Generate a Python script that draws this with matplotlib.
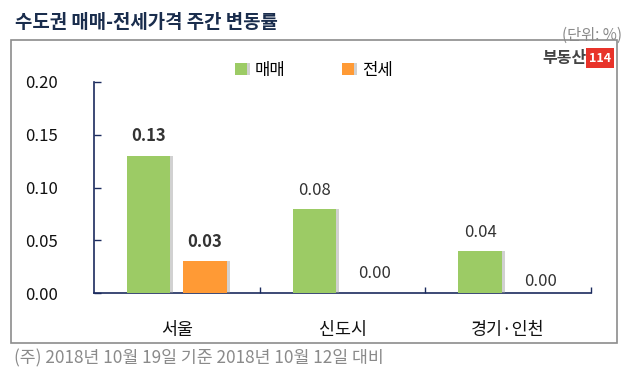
# 수도권 매매-전세가격 주간 변동률

import numpy as np
import matplotlib.pyplot as plt
from matplotlib.patches import Rectangle
import matplotlib.patheffects as pe

plt.rcParams['font.family'] = ['Noto Sans CJK KR', 'DejaVu Sans']

regions = ['서울', '신도시', '경기·인천']
sale = [0.13, 0.08, 0.04]      # 매매
jeonse = [0.03, 0.00, 0.00]    # 전세
yticks = [0.00, 0.05, 0.10, 0.15, 0.20]

green = '#9ccb65'
orange = '#ff9a35'
navy = '#1b2b5e'
txt = '#333333'

fig = plt.figure(figsize=(6.31, 3.83), dpi=100)
ax = fig.add_axes([94/631, 1-293/383, 497/631, 211/383])

x = np.arange(len(regions))
w = 0.26
off = 0.17
shadow = [pe.SimplePatchShadow(offset=(2.2, 0), shadow_rgbFace='#999999', alpha=0.45), pe.Normal()]
b1 = ax.bar(x - off, sale, w, color=green, label='매매', path_effects=shadow, zorder=3)
b2 = ax.bar(x + off, jeonse, w, color=orange, label='전세', path_effects=shadow, zorder=3)

# value labels (서울 in bold)
lift1 = [14, 13, 13.5]
lift2 = [14, 14, 8.5]
for i in range(len(regions)):
    fw = 'bold' if i == 0 else 'normal'
    ax.annotate(f'{sale[i]:.2f}', (x[i] - off, sale[i]), xytext=(0, lift1[i]),
                textcoords='offset points', ha='center', va='center',
                fontsize=12, color=txt, fontweight=fw)
    ax.annotate(f'{jeonse[i]:.2f}', (x[i] + off, jeonse[i]), xytext=(3 if i else 0, lift2[i]),
                textcoords='offset points', ha='center', va='center',
                fontsize=12, color=txt, fontweight=fw)

ax.set_xlim(-0.5, 2.5)
ax.set_ylim(0, 0.20)
ax.set_yticks(yticks)
ax.set_yticklabels([f'{v:.2f}' for v in yticks])
ax.set_xticks([0.5, 1.5, 2.5])
ax.set_xticklabels([])
ax.set_xticks(x, minor=True)
ax.set_xticklabels(regions, minor=True)
ax.tick_params(axis='x', which='major', direction='in', length=4, color=navy, width=1)
ax.tick_params(axis='x', which='minor', length=0, pad=20, labelsize=12.5, labelcolor='#111111')
ax.tick_params(axis='y', direction='in', length=5, color=navy, width=1, pad=26,
               labelsize=12, labelcolor='#111111')
for s in ['top', 'right']:
    ax.spines[s].set_visible(False)
for s in ['left', 'bottom']:
    ax.spines[s].set_color(navy)
    ax.spines[s].set_linewidth(1.2)

ax.legend(loc='center', bbox_to_anchor=(314/631, 1-70/383), bbox_transform=fig.transFigure,
          ncol=2, frameon=False, fontsize=12, handlelength=0.7, handleheight=0.7,
          handletextpad=0.5, columnspacing=3.4)

# outer frame
fig.patches.append(Rectangle((11/631, 1-343/383), 606/631, 303/383, transform=fig.transFigure,
                             fill=False, edgecolor='#8c8c8c', linewidth=1.2))

fig.text(15/631, 1-22/383, '수도권 매매-전세가격 주간 변동률', fontsize=13.6, fontweight='bold',
         color='#1a2d4d', va='center', ha='left')
fig.text(622/631, 1-35/383, '(단위: %)', fontsize=11, color='#8a8a8a', va='center', ha='right')
fig.text(14/631, 1-358/383, '(주) 2018년 10월 19일 기준 2018년 10월 12일 대비', fontsize=12.4,
         color='#8a8a8a', va='center', ha='left')

# logo
fig.text(587/631, 1-58/383, '부동산', fontsize=11.5, fontweight='bold', color='#444444',
         va='center', ha='right')
fig.text(600/631, 1-58/383, '114', fontsize=9, fontweight='bold', color='white', va='center',
         ha='center', bbox=dict(boxstyle='square,pad=0.25', facecolor='#e8332a', edgecolor='none'))

fig.savefig('out.png', dpi=100)
